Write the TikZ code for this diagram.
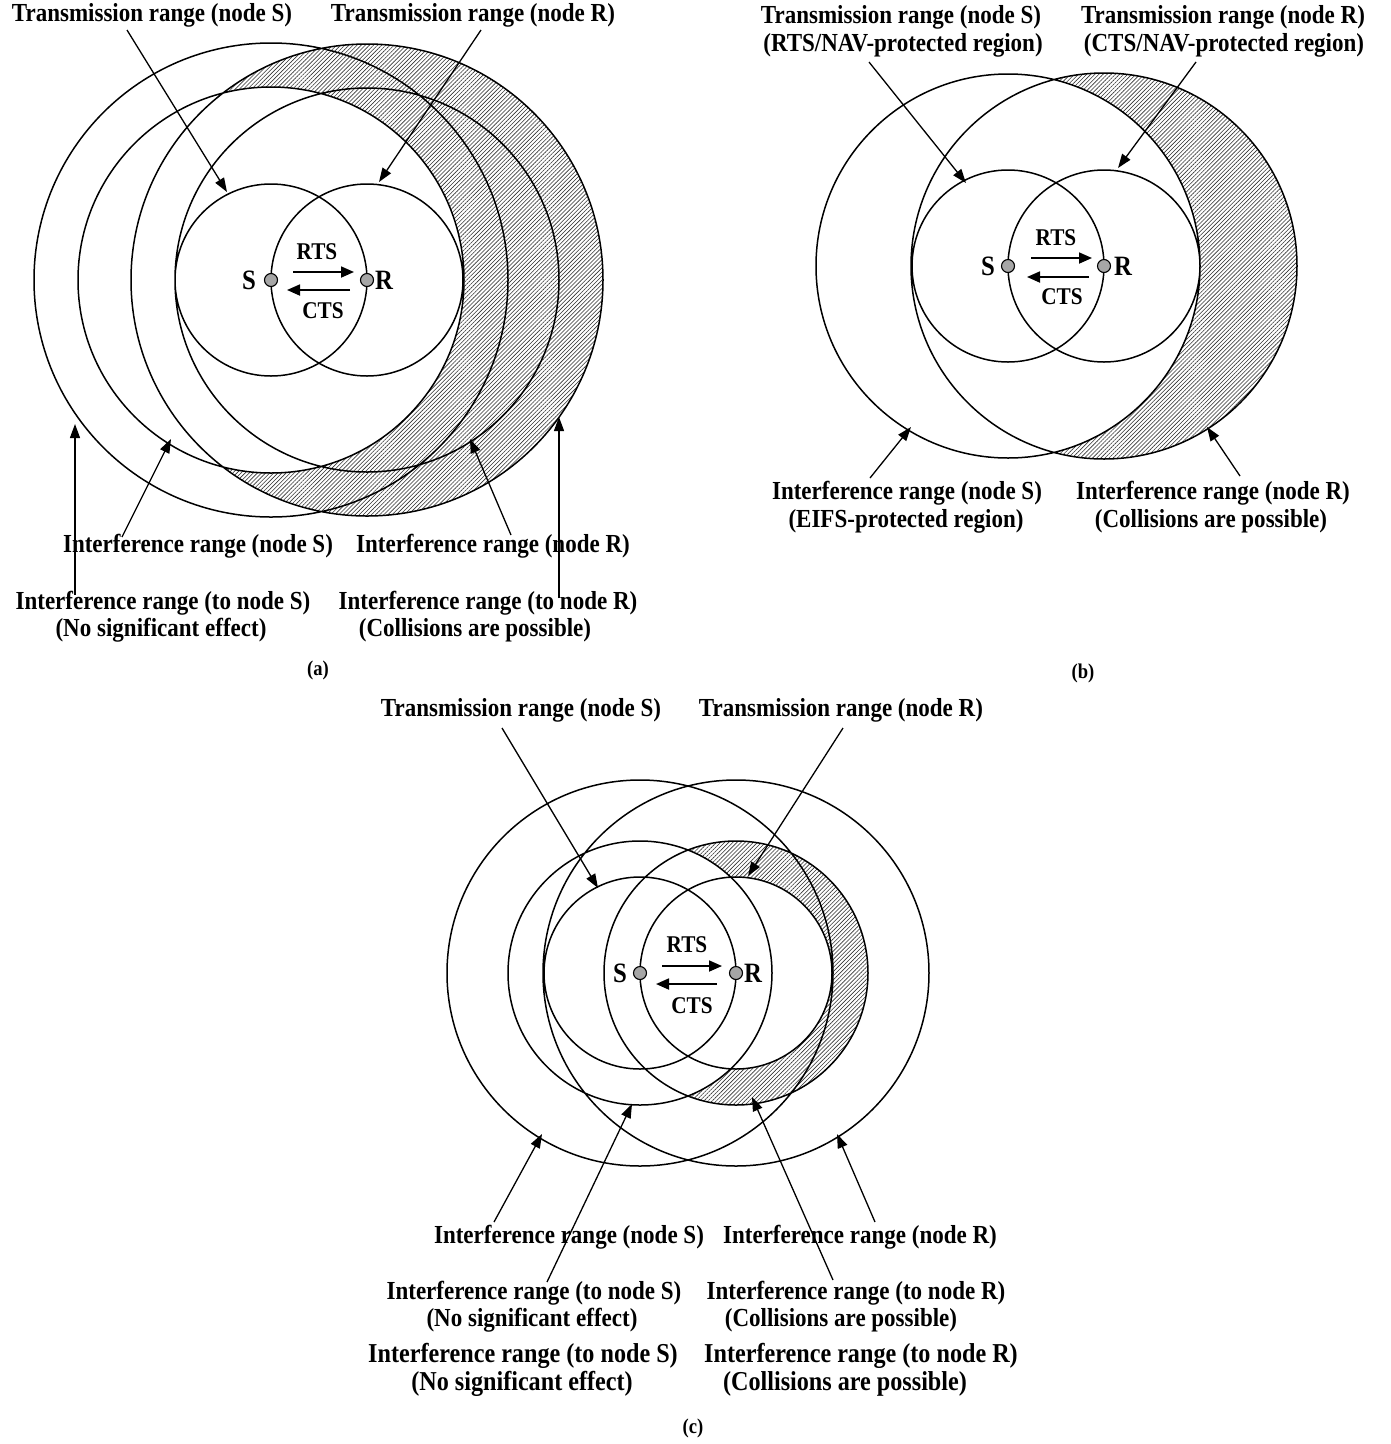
\documentclass[tikz,border=0pt]{standalone}
\usepackage{fontspec}
\setmainfont{Liberation Serif}[FakeStretch=0.885]
\usetikzlibrary{arrows.meta,patterns.meta}
\tikzset{
  rng/.style={line width=1.5pt},
  ptr/.style={line width=1.3pt,-{Triangle[length=14pt,width=10pt]}},
  msg/.style={line width=1.8pt,-{Triangle[length=13pt,width=11pt]}},
  hatch/.style={pattern={Lines[angle=45,distance=2.9pt,line width=0.6pt]},pattern color=black!80},
  lbl/.style={font=\bfseries\fontsize{26}{29}\selectfont,inner sep=0pt},
  lblb/.style={font=\bfseries\fontsize{27.3}{30}\selectfont,inner sep=0pt},
  sr/.style={font=\bfseries\fontsize{28}{30}\selectfont,inner sep=0pt},
  msgl/.style={font=\bfseries\fontsize{24}{26}\selectfont,inner sep=0pt},
  capl/.style={font=\bfseries\fontsize{21}{22}\selectfont,inner sep=0pt},
  dot/.style={circle,draw,line width=1.1pt,fill=black!35,minimum size=13pt,inner sep=0pt}
}
\begin{document}
\begin{tikzpicture}[x=1pt,y=-1pt]
\useasboundingbox (0,0) rectangle (1391,1444);
\fill[white] (0,0) rectangle (1391,1444);

% ---------------- panel (a)
\coordinate (Sa) at (271,280);
\coordinate (Ra) at (367,280);
\fill[hatch] (Ra) circle (236pt);
\fill[white] (Sa) circle (193pt);
\draw[rng] (Sa) circle (96pt) (Ra) circle (96pt)
           (Sa) circle (193pt) (Sa) circle (237pt)
           (Ra) circle (192pt) (Ra) circle (236pt);
\node[dot] (dSa) at (Sa) {};
\node[dot] (dRa) at (Ra) {};
\node[sr] (lSa) at (249,280) {S};
\node[sr] (lRa) at (384,280) {R};
\node[msgl] (rtsa) at (317,252) {RTS};
\node[msgl] (ctsa) at (323,311) {CTS};
\coordinate (rta1) at (293,272); \coordinate (rta2) at (354,272);
\coordinate (cta1) at (350,290); \coordinate (cta2) at (287,290);
\draw[msg] (rta1) -- (rta2);
\draw[msg] (cta1) -- (cta2);

\node[lbl] (ta1) at (152,15) {Transmission range (node S)};
\node[lbl] (ta2) at (473,15) {Transmission range (node R)};
\coordinate (pa1s) at (127,30); \coordinate (pa1e) at (227,192);
\coordinate (pa2s) at (481,30); \coordinate (pa2e) at (379,182);
\draw[ptr] (pa1s) -- (pa1e);
\draw[ptr] (pa2s) -- (pa2e);

\node[lbl] (ba1) at (198,546) {Interference range (node S)};
\node[lbl] (ba2) at (493,546) {Interference range (node R)};
\node[lbl] (ba3) at (163,603) {Interference range (to node S)};
\node[lbl] (ba3b) at (161,630) {(No significant effect)};
\node[lbl] (ba4) at (488,603) {Interference range (to node R)};
\node[lbl] (ba4b) at (475,630) {(Collisions are possible)};
\coordinate (qa1s) at (75,595);  \coordinate (qa1e) at (75,424);
\coordinate (qa2s) at (122,537); \coordinate (qa2e) at (171,439);
\coordinate (qa3s) at (511,535); \coordinate (qa3e) at (470,439);
\coordinate (qa4s) at (559,598); \coordinate (qa4e) at (559,417);
\draw[ptr] (qa1s) -- (qa1e);
\draw[ptr] (qa2s) -- (qa2e);
\draw[ptr] (qa3s) -- (qa3e);
\draw[ptr] (qa4s) -- (qa4e);
\node[capl] (capa) at (318,670) {(a)};

% ---------------- panel (b)
\coordinate (Sb) at (1008,266);
\coordinate (Rb) at (1104,266);
\fill[hatch] (Rb) circle (193pt);
\fill[white] (Sb) circle (192pt);
\draw[rng] (Sb) circle (96pt) (Rb) circle (96pt)
           (Sb) circle (192pt) (Rb) circle (193pt);
\node[dot] (dSb) at (Sb) {};
\node[dot] (dRb) at (Rb) {};
\node[sr] (lSb) at (988,266) {S};
\node[sr] (lRb) at (1123,266) {R};
\node[msgl] (rtsb) at (1056,238) {RTS};
\node[msgl] (ctsb) at (1062,297) {CTS};
\coordinate (rtb1) at (1031,258); \coordinate (rtb2) at (1092,258);
\coordinate (ctb1) at (1089,277); \coordinate (ctb2) at (1027,277);
\draw[msg] (rtb1) -- (rtb2);
\draw[msg] (ctb1) -- (ctb2);

\node[lbl] (tb1) at (901,17) {Transmission range (node S)};
\node[lbl] (tb1b) at (903,45) {(RTS/NAV-protected region)};
\node[lbl] (tb2) at (1223,17) {Transmission range (node R)};
\node[lbl] (tb2b) at (1224,45) {(CTS/NAV-protected region)};
\coordinate (pb1s) at (869,62);  \coordinate (pb1e) at (966,183);
\coordinate (pb2s) at (1196,62); \coordinate (pb2e) at (1118,168);
\draw[ptr] (pb1s) -- (pb1e);
\draw[ptr] (pb2s) -- (pb2e);

\node[lbl] (bb1) at (907,493) {Interference range (node S)};
\node[lbl] (bb1b) at (906,521) {(EIFS-protected region)};
\node[lbl] (bb2) at (1213,493) {Interference range (node R)};
\node[lbl] (bb2b) at (1211,521) {(Collisions are possible)};
\coordinate (qb1s) at (870,478);  \coordinate (qb1e) at (911,427);
\coordinate (qb2s) at (1240,476); \coordinate (qb2e) at (1207,427);
\draw[ptr] (qb1s) -- (qb1e);
\draw[ptr] (qb2s) -- (qb2e);
\node[capl] (capb) at (1083,673) {(b)};

% ---------------- panel (c)
\coordinate (Sc) at (640,973);
\coordinate (Rc) at (736,973);
\fill[hatch] (Rc) circle (132pt);
\fill[white] (Sc) circle (132pt);
\fill[white] (Rc) circle (96pt);
\draw[rng] (Sc) circle (96pt) (Rc) circle (96pt)
           (Sc) circle (132pt) (Rc) circle (132pt)
           (Sc) circle (193pt) (Rc) circle (193pt);
\node[dot] (dSc) at (Sc) {};
\node[dot] (dRc) at (Rc) {};
\node[sr] (lSc) at (620,973) {S};
\node[sr] (lRc) at (753,973) {R};
\node[msgl] (rtsc) at (687,945) {RTS};
\node[msgl] (ctsc) at (692,1006) {CTS};
\coordinate (rtc1) at (662,966); \coordinate (rtc2) at (722,966);
\coordinate (ctc1) at (717,984); \coordinate (ctc2) at (656,984);
\draw[msg] (rtc1) -- (rtc2);
\draw[msg] (ctc1) -- (ctc2);

\node[lbl] (tc1) at (521,710) {Transmission range (node S)};
\node[lbl] (tc2) at (841,710) {Transmission range (node R)};
\coordinate (pc1s) at (502,728); \coordinate (pc1e) at (598,888);
\coordinate (pc2s) at (843,728); \coordinate (pc2e) at (748,876);
\draw[ptr] (pc1s) -- (pc1e);
\draw[ptr] (pc2s) -- (pc2e);

\node[lbl] (bc1) at (569,1237) {Interference range (node S)};
\node[lbl] (bc2) at (860,1237) {Interference range (node R)};
\node[lbl] (bc3) at (534,1293) {Interference range (to node S)};
\node[lbl] (bc3b) at (532,1320) {(No significant effect)};
\node[lbl] (bc4) at (856,1293) {Interference range (to node R)};
\node[lbl] (bc4b) at (841,1320) {(Collisions are possible)};
\node[lblb] (bc5) at (523,1356) {Interference range (to node S)};
\node[lblb] (bc5b) at (522,1384) {(No significant effect)};
\node[lblb] (bc6) at (861,1356) {Interference range (to node R)};
\node[lblb] (bc6b) at (845,1384) {(Collisions are possible)};
\coordinate (qc1s) at (494,1222); \coordinate (qc1e) at (542,1134);
\coordinate (qc2s) at (547,1282); \coordinate (qc2e) at (632,1104);
\coordinate (qc3s) at (833,1280); \coordinate (qc3e) at (752,1097);
\coordinate (qc4s) at (875,1222); \coordinate (qc4e) at (837,1134);
\draw[ptr] (qc1s) -- (qc1e);
\draw[ptr] (qc2s) -- (qc2e);
\draw[ptr] (qc3s) -- (qc3e);
\draw[ptr] (qc4s) -- (qc4e);
\node[capl] (capc) at (693,1428) {(c)};
\end{tikzpicture}
\end{document}
